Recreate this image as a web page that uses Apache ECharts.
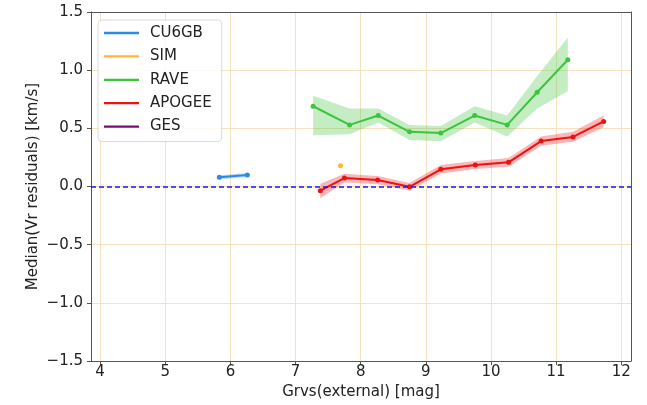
<!DOCTYPE html>
<html>
<head>
<meta charset="utf-8">
<script src="https://cdn.jsdelivr.net/npm/echarts@6/dist/echarts.min.js"></script>
<style>html,body{margin:0;padding:0;background:#fff}#c{width:647px;height:405px}</style>
</head>
<body>
<div id="c"></div>
<script>
// ---- data ----
var xTicks = [4, 5, 6, 7, 8, 9, 10, 11, 12];
var yTicks = [-1.5, -1.0, -0.5, 0.0, 0.5, 1.0, 1.5];

var cu6gbX = [5.83, 6.26];
var cu6gbY = [0.079, 0.100];
var cu6gbLo = [0.060, 0.083];
var cu6gbHi = [0.098, 0.117];

var simX = [7.69];
var simY = [0.179];

var raveX = [7.27, 7.83, 8.27, 8.75, 9.23, 9.75, 10.25, 10.71, 11.18];
var raveY = [0.69, 0.53, 0.61, 0.47, 0.46, 0.61, 0.53, 0.81, 1.09];
var raveLo = [0.44, 0.45, 0.55, 0.40, 0.39, 0.55, 0.43, 0.67, 0.82];
var raveHi = [0.78, 0.67, 0.67, 0.53, 0.52, 0.69, 0.61, 0.95, 1.28];

var apogeeX = [7.38, 7.75, 8.26, 8.75, 9.23, 9.76, 10.27, 10.77, 11.26, 11.73];
var apogeeY = [-0.036, 0.073, 0.056, -0.002, 0.148, 0.185, 0.208, 0.391, 0.426, 0.560];
var apogeeLo = [-0.10, 0.035, 0.020, -0.035, 0.110, 0.150, 0.170, 0.350, 0.385, 0.510];
var apogeeHi = [0.025, 0.110, 0.090, 0.030, 0.185, 0.220, 0.245, 0.430, 0.470, 0.610];

var gesX = [];
var gesY = [];

var zeroLevel = 0;

// ---- helpers ----
function pairs(xs, ys) { return xs.map(function (x, i) { return [x, ys[i]]; }); }
function band(name, xs, lo, hi, color) {
  var data = xs.map(function (x, i) { return [x, lo[i], hi[i]]; });
  return {
    type: 'custom', name: name + '_band', z: 1, silent: true,
    data: data,
    encode: { x: 0, y: [1, 2] },
    renderItem: function (params, api) {
      if (params.dataIndex !== 0) return;
      var pts = [];
      for (var i = 0; i < data.length; i++) pts.push(api.coord([data[i][0], data[i][2]]));
      for (var j = data.length - 1; j >= 0; j--) pts.push(api.coord([data[j][0], data[j][1]]));
      return { type: 'polygon', shape: { points: pts }, style: { fill: color, opacity: 0.3 } };
    }
  };
}
function line(name, xs, ys, color) {
  return {
    type: 'line', name: name, z: 3, data: pairs(xs, ys),
    symbol: 'circle', symbolSize: 5, showSymbol: true,
    lineStyle: { color: color, width: 2 }, itemStyle: { color: color },
    animation: false
  };
}

var C_BLUE = '#2a8ae6', C_ORANGE = '#ffa500', C_GREEN = '#3cc43c', C_RED = '#ee1111', C_PURPLE = '#7a0a7a';
var font = 'DejaVu Sans';
function fmt(v) {
  var s = (Math.round(v * 10) / 10).toFixed(1);
  return s.replace('-', '\u2212');
}

var apogeeLine = line('APOGEE', apogeeX, apogeeY, C_RED);
apogeeLine.markLine = {
  silent: true, symbol: ['none', 'none'], label: { show: false },
  lineStyle: { color: '#1515ff', type: [5, 3], width: 1.5, opacity: 1 },
  itemStyle: { color: '#1515ff' },
  emphasis: { disabled: true },
  data: [{ yAxis: zeroLevel }], animation: false
};

var spineOnly = {
  axisLine: { show: true, onZero: false, lineStyle: { color: '#555', width: 1 } },
  axisTick: { show: false }, axisLabel: { show: false }, splitLine: { show: false }
};

var chart = echarts.init(document.getElementById('c'), null, { renderer: 'canvas' });
chart.setOption({
  animation: false,
  backgroundColor: '#fff',
  textStyle: { fontFamily: font },
  grid: { left: 91, top: 12, width: 540, height: 350, containLabel: false },
  legend: {
    left: 98, top: 20, orient: 'vertical',
    data: ['CU6GB', 'SIM', 'RAVE', 'APOGEE', 'GES'],
    icon: 'path://M0,0 L30,0 L30,2 L0,2 Z',
    itemWidth: 35, itemHeight: 2.5, itemGap: 5.4,
    padding: [4, 10, 6, 6],
    backgroundColor: 'rgba(255,255,255,0.85)',
    borderColor: '#d9d9d9', borderWidth: 1, borderRadius: 4,
    textStyle: { fontFamily: font, fontSize: 15, color: '#222', padding: [0, 0, 0, 6], lineHeight: 18 }
  },
  xAxis: [{
    type: 'value', min: 3.86, max: 12.15,
    name: 'Grvs(external) [mag]', nameLocation: 'middle', nameGap: 17,
    nameTextStyle: { fontFamily: font, fontSize: 15, color: '#222' },
    axisLine: { show: true, onZero: false, lineStyle: { color: '#555', width: 1 } },
    axisTick: { show: true, inside: false, length: 4, customValues: xTicks, lineStyle: { color: '#555' } },
    axisLabel: { customValues: xTicks, fontFamily: font, fontSize: 15, color: '#222', margin: 4,
      formatter: function (v) { return String(Math.round(v)); } },
    splitLine: { show: true, lineStyle: { color: '#f7e2bf', width: 1 } }
  }, Object.assign({ type: 'value', min: 3.86, max: 12.15, position: 'top' }, spineOnly)],
  yAxis: [{
    type: 'value', min: -1.5, max: 1.5, interval: 0.5,
    name: 'Median(Vr residuals) [km/s]', nameLocation: 'middle', nameGap: 50, nameMoveOverlap: false,
    nameTextStyle: { fontFamily: font, fontSize: 15, color: '#222' },
    axisLine: { show: true, onZero: false, lineStyle: { color: '#555', width: 1 } },
    axisTick: { show: true, inside: false, length: 4, lineStyle: { color: '#555' } },
    axisLabel: { fontFamily: font, fontSize: 15, color: '#222', margin: 8, formatter: fmt },
    splitLine: { show: true, lineStyle: { color: '#f7e2bf', width: 1 } }
  }, Object.assign({ type: 'value', min: -1.5, max: 1.5, interval: 0.5, position: 'right' }, spineOnly)],
  series: [
    band('CU6GB', cu6gbX, cu6gbLo, cu6gbHi, C_BLUE),
    band('RAVE', raveX, raveLo, raveHi, C_GREEN),
    band('APOGEE', apogeeX, apogeeLo, apogeeHi, C_RED),
    line('CU6GB', cu6gbX, cu6gbY, C_BLUE),
    { type: 'scatter', name: 'SIM', z: 3, data: pairs(simX, simY), symbol: 'circle', symbolSize: 5,
      itemStyle: { color: C_ORANGE } },
    line('RAVE', raveX, raveY, C_GREEN),
    apogeeLine,
    line('GES', gesX, gesY, C_PURPLE)
  ]
});
</script>
</body>
</html>
